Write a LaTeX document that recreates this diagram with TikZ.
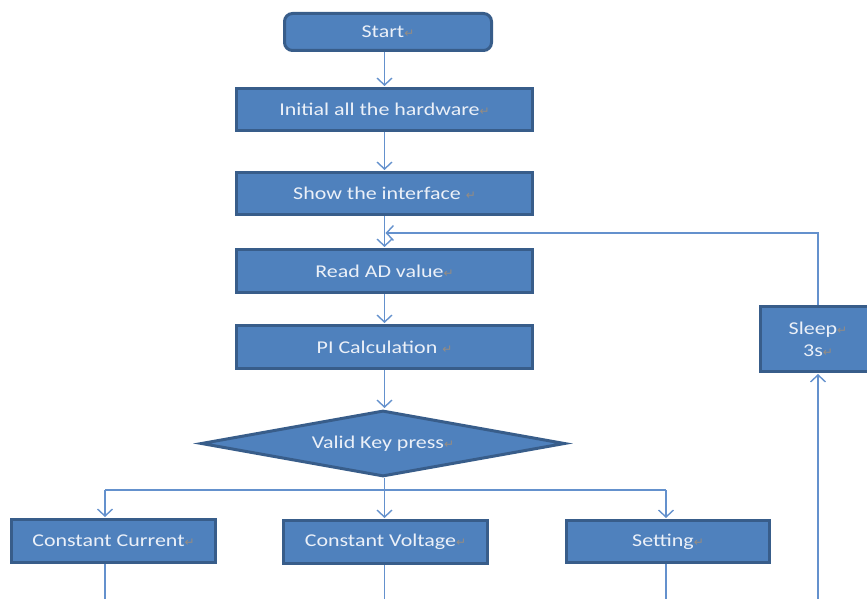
\documentclass[tikz,border=0pt]{standalone}
\usepackage{fontspec}
\setmainfont{Carlito}[FakeStretch=1.22]
\newfontfamily\symf{DejaVu Sans}
\usetikzlibrary{shapes.geometric,arrows.meta}
\definecolor{boxfill}{RGB}{79,129,189}
\definecolor{boxline}{RGB}{56,93,138}
\definecolor{conn}{RGB}{100,145,205}
\definecolor{txt}{RGB}{235,240,248}
\definecolor{retgray}{RGB}{150,140,130}
\newcommand\rmark{{\symf\fontsize{12}{12}\selectfont\textcolor{retgray}{↵}}}
\begin{document}
\begin{tikzpicture}[x=1pt,y=-1pt,
  box/.style={draw=boxline,fill=boxfill,line width=3pt,inner sep=0pt,text=txt,font=\fontsize{18}{22}\selectfont},
  arr/.style={draw=conn,line width=1.4pt,shorten >=1pt,-{Straight Barb[length=7pt,width=15pt,line width=1.4pt]}},
  ln/.style={draw=conn,line width=1.4pt}]
\useasboundingbox (0,0) rectangle (867,599);
\clip (0,0) rectangle (867,599);
\node[box,rounded corners=8pt,minimum width=207pt,minimum height=37pt] (start) at (388,32) {Start\rmark};
\node[box,minimum width=296pt,minimum height=42pt] (init) at (384.5,109.5) {Initial all the hardware\rmark};
\node[box,minimum width=296pt,minimum height=42pt] (show) at (384.5,193.5) {Show the interface \rmark};
\node[box,minimum width=296pt,minimum height=43pt] (read) at (384.5,271) {Read AD value\rmark};
\node[box,minimum width=296pt,minimum height=43pt] (pi) at (384.5,347) {PI Calculation \rmark};
\node[box,diamond,shape aspect=5.4,minimum width=364pt,minimum height=66pt] (key) at (383,443.5) {Valid Key press\rmark};
\node[box,minimum width=204pt,minimum height=43pt] (cc) at (113.5,541) {Constant Current\rmark};
\node[box,minimum width=204pt,minimum height=43pt] (cv) at (385.5,542) {Constant Voltage\rmark};
\node[box,minimum width=203pt,minimum height=42pt] (set) at (668,541.5) {Setting\rmark};
\node[box,minimum width=115pt,minimum height=65pt,align=center] (sleep) at (818,339) {Sleep\rmark\\3s\rmark};
\coordinate (loopL) at (384.5,233);
\coordinate (splitL) at (105,490);
\coordinate (splitR) at (666,490);
\coordinate (botL) at (105,599);
\coordinate (botM) at (384.5,599);
\coordinate (botR) at (666,599);
\coordinate (botS) at (818,599);
\draw[arr] (init.north |- start.south) -- (init.north);
\draw[arr] (init) -- (show);
\draw[arr] (show) -- (read);
\draw[arr] (read) -- (pi);
\draw[arr] (pi.south) -- (pi.south |- key.north);
\draw[arr] (pi.south |- key.south) -- (pi.south |- cv.north);
\draw[ln] (splitL) -- (splitR);
\draw[arr] (splitL) -- (splitL |- cc.north);
\draw[arr] (splitR) -- (splitR |- set.north);
\draw[arr] (sleep.north) |- (loopL);
\draw[arr] (botS) -- (sleep.south);
\draw[ln] (splitL |- cc.south) -- (botL);
\draw[ln] (cv.south -| botM) -- (botM);
\draw[ln] (splitR |- set.south) -- (botR);
\end{tikzpicture}
\end{document}
